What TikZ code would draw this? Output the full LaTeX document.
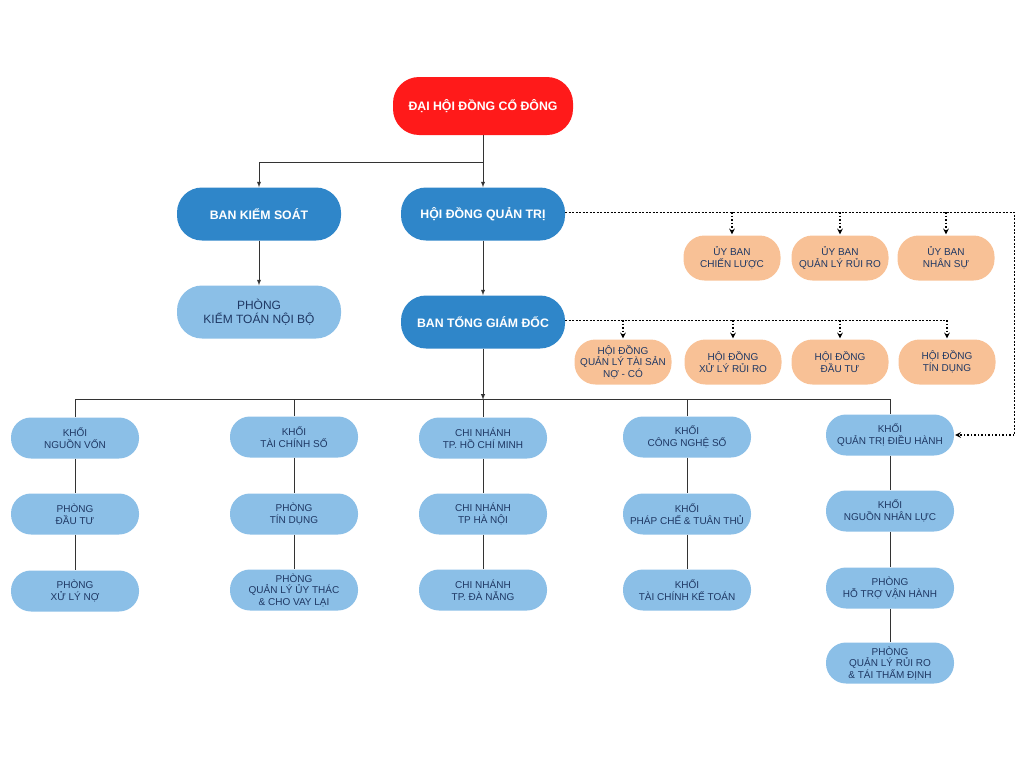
\documentclass[tikz,border=0pt]{standalone}
\usepackage{fontspec}
\setmainfont{Liberation Sans}
\usepackage{tikz}
\usetikzlibrary{shapes,arrows,positioning,calc}
\definecolor{topred}{HTML}{FF1A1A}
\definecolor{darkblue}{HTML}{2F86C9}
\definecolor{lightblue}{HTML}{8BBFE7}
\definecolor{peach}{HTML}{F8C196}
\definecolor{navy}{HTML}{1F3864}
\definecolor{linegray}{HTML}{333333}
\tikzset{
  box/.style={rectangle, rounded corners=20pt, draw=none, align=center,
    inner sep=0pt},
  redbox/.style={box, fill=topred, text=white, font=\fontsize{12.3}{14}\selectfont\bfseries,
    minimum width=180pt, minimum height=58pt, rounded corners=26pt},
  bluebox/.style={box, fill=darkblue, text=white, font=\fontsize{12.3}{14}\selectfont\bfseries,
    minimum width=164pt, minimum height=53pt, rounded corners=25pt},
  paleblue/.style={box, fill=lightblue, text=navy, font=\fontsize{10}{11.5}\selectfont,
    minimum width=128pt, minimum height=41pt},
  peachbox/.style={box, fill=peach, text=navy, font=\fontsize{10}{11.5}\selectfont,
    minimum width=97pt, minimum height=45pt, rounded corners=21pt},
  link/.style={draw=linegray, line width=0.9pt},
  dashlink/.style={draw=black, line width=0.7pt, dashed, dash pattern=on 2pt off 1.5pt},
  dotarrow/.style={draw=black, line width=1.5pt, dotted, -stealth, shorten >=1pt}
}
\begin{document}
\begin{tikzpicture}[x=1pt,y=-1pt]
  \useasboundingbox (0,0) rectangle (1024,768);

  % top levels
  \node (dhdcd) [redbox] at (483,106) {ĐẠI HỘI ĐỒNG CỔ ĐÔNG};
  \node (bks) [bluebox] at (259,214) {BAN KIỂM SOÁT};
  \node (hdqt) [bluebox] at (483,214) {HỘI ĐỒNG QUẢN TRỊ};
  \node (pktnb) [paleblue, minimum width=164pt, minimum height=53pt, rounded corners=25pt,
    font=\fontsize{12}{14}\selectfont] at (259,312) {PHÒNG\\KIỂM TOÁN NỘI BỘ};
  \node (btgd) [bluebox] at (483,322) {BAN TỔNG GIÁM ĐỐC};

  % committees
  \node (ubcl) [peachbox] at (732,258) {ỦY BAN\\CHIẾN LƯỢC};
  \node (ubrr) [peachbox] at (840,258) {ỦY BAN\\QUẢN LÝ RỦI RO};
  \node (ubns) [peachbox] at (946,258) {ỦY BAN\\NHÂN SỰ};

  \node (hdts) [peachbox] at (623,362) {HỘI ĐỒNG\\QUẢN LÝ TÀI SẢN\\NỢ - CÓ};
  \node (hdxl) [peachbox] at (733,362) {HỘI ĐỒNG\\XỬ LÝ RỦI RO};
  \node (hddt) [peachbox] at (840,362) {HỘI ĐỒNG\\ĐẦU TƯ};
  \node (hdtd) [peachbox] at (947,362) {HỘI ĐỒNG\\TÍN DỤNG};

  % columns
  \node (nv) [paleblue] at (75,438) {KHỐI\\NGUỒN VỐN};
  \node (pdt) [paleblue] at (75,514) {PHÒNG\\ĐẦU TƯ};
  \node (xln) [paleblue] at (75,591) {PHÒNG\\XỬ LÝ NỢ};

  \node (tcs) [paleblue] at (294,437) {KHỐI\\TÀI CHÍNH SỐ};
  \node (ptd) [paleblue] at (294,514) {PHÒNG\\TÍN DỤNG};
  \node (qlut) [paleblue] at (294,590) {PHÒNG\\QUẢN LÝ ỦY THÁC\\\& CHO VAY LẠI};

  \node (hcm) [paleblue] at (483,438) {CHI NHÁNH\\TP. HỒ CHÍ MINH};
  \node (hn) [paleblue] at (483,514) {CHI NHÁNH\\TP HÀ NỘI};
  \node (dn) [paleblue] at (483,590) {CHI NHÁNH\\TP. ĐÀ NẴNG};

  \node (cns) [paleblue] at (687,437) {KHỐI\\CÔNG NGHỆ SỐ};
  \node (pctt) [paleblue] at (687,514) {KHỐI\\PHÁP CHẾ \& TUÂN THỦ};
  \node (tckt) [paleblue] at (687,590) {KHỐI\\TÀI CHÍNH KẾ TOÁN};

  \node (qtdh) [paleblue] at (890,435) {KHỐI\\QUẢN TRỊ ĐIỀU HÀNH};
  \node (nnl) [paleblue] at (890,511) {KHỐI\\NGUỒN NHÂN LỰC};
  \node (htvh) [paleblue] at (890,588) {PHÒNG\\HỖ TRỢ VẬN HÀNH};
  \node (qlrr) [paleblue] at (890,663) {PHÒNG\\QUẢN LÝ RỦI RO\\\& TÁI THẨM ĐỊNH};

  % solid links
  \coordinate (j1) at ($(dhdcd.south)+(0,27)$);
  \coordinate (j2) at ($(btgd.south)+(0,51)$);
  \draw[link] (dhdcd.south) -- (j1);
  \draw[link,-latex] (j1) -| (bks.north);
  \draw[link,-latex] (j1) -- (hdqt.north);
  \draw[link,-latex] (bks.south) -- (pktnb.north);
  \draw[link,-latex] (hdqt.south) -- (btgd.north);
  \draw[link,-latex] (btgd.south) -- (j2);
  \foreach \top in {nv,tcs,hcm,cns,qtdh}
    \draw[link] (j2) -| (\top.north);
  \draw[link] (nv) -- (pdt) -- (xln);
  \draw[link] (tcs) -- (ptd) -- (qlut);
  \draw[link] (hcm) -- (hn) -- (dn);
  \draw[link] (cns) -- (pctt) -- (tckt);
  \draw[link] (qtdh) -- (nnl) -- (htvh) -- (qlrr);

  % dashed links
  \coordinate (c1) at ($(hdqt.east)+(449,-2)$);
  \draw[dashlink] ($(hdqt.east)+(0,-2)$) -- (c1) -- (c1 |- qtdh.east);
  \draw[dotarrow] (c1 |- qtdh.east) -- (qtdh.east);
  \foreach \ub in {ubcl,ubrr,ubns}
    \draw[dotarrow] (\ub.north |- c1) -- (\ub.north);
  \draw[dashlink] ($(btgd.east)+(0,-2)$) -- ($(hdtd.north |- btgd.east)+(0,-2)$);
  \foreach \hd in {hdts,hdxl,hddt,hdtd}
    \draw[dotarrow] ($(\hd.north |- btgd.east)+(0,-2)$) -- (\hd.north);
\end{tikzpicture}
\end{document}
